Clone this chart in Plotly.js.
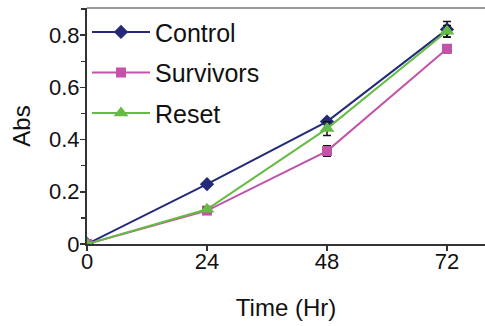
<!DOCTYPE html>
<html><head><meta charset="utf-8">
<script src="https://cdn.plot.ly/plotly-3.0.1.min.js"></script>
<style>html,body{margin:0;padding:0;background:#fff}#chart{width:485px;height:326px}</style>
</head><body><div id="chart"></div>
<script>
const timeHr = [0, 24, 48, 72];
const controlAbs = [0, 0.229, 0.469, 0.822];
const controlErr = [0, 0.008, 0.008, 0.03];
const survivorsAbs = [0, 0.128, 0.356, 0.748];
const survivorsErr = [0, 0.008, 0.02, 0.015];
const resetAbs = [0, 0.133, 0.442, 0.815];
const resetErr = [0, 0.008, 0.026, 0.022];
const xTicks = [0, 24, 48, 72];
const yTicks = [0, 0.2, 0.4, 0.6, 0.8];
const yTickText = ['0', '0.2', '0.4', '0.6', '0.8'];

const font = 'Liberation Sans, Arial, sans-serif';
function tr(name, y, err, color, symbol, size, grp) {
  return {
    type: 'scatter', mode: 'lines+markers', name: name, x: timeHr, y: y,
    legendgroup: grp,
    line: {color: color, width: 2},
    marker: {symbol: symbol, size: size, color: color},
    error_y: {type: 'data', array: err, visible: true, color: '#111', thickness: 1.5, width: 4}
  };
}
const data = [
  tr('Control', controlAbs, controlErr, '#232a78', 'diamond', 11, 'a'),
  tr('Survivors', survivorsAbs, survivorsErr, '#c253a8', 'square', 10, 'b'),
  tr('Reset', resetAbs, resetErr, '#66bb44', 'triangle-up', 13, 'c')
];
const layout = {
  width: 485, height: 326,
  margin: {l: 87, r: 0, t: 8, b: 82},
  paper_bgcolor: '#fff', plot_bgcolor: '#fff',
  font: {family: font, color: '#111'},
  showlegend: true,
  legend: {x: 0.0, y: 0.995, xanchor: 'left', yanchor: 'top', bgcolor: 'rgba(0,0,0,0)',
    font: {size: 25, family: font, color: '#111'}, traceorder: 'grouped', tracegroupgap: 5, itemwidth: 58},
  xaxis: {range: [0, 79.6], tickvals: xTicks, ticktext: xTicks.map(String), ticks: 'outside', ticklen: 5,
    tickwidth: 1.5, tickcolor: '#333', showline: true, linecolor: '#333', linewidth: 2, showgrid: false,
    zeroline: false, tickfont: {size: 22, family: font}, ticklabelstandoff: -8,
    title: {text: 'Time (Hr)', font: {size: 24, family: font}, standoff: 26}},
  yaxis: {range: [0, 0.904], tickvals: yTicks, ticktext: yTickText, ticks: 'outside', ticklen: 5,
    tickwidth: 1.5, tickcolor: '#333', showline: true, linecolor: '#333', linewidth: 2, showgrid: false,
    zeroline: false, tickfont: {size: 22, family: font}, ticklabelstandoff: -4,
    minor: {dtick: 0.1, tick0: 0, ticks: 'outside', ticklen: 4, tickcolor: '#333', tickwidth: 1.5, showgrid: false},
    title: {text: 'Abs', font: {size: 24, family: font}, standoff: 12}},
  shapes: [{type: 'line', xref: 'paper', yref: 'paper', x0: 0, x1: 1, y0: 1, y1: 1,
    line: {color: '#999', width: 2}}]
};
Plotly.newPlot('chart', data, layout, {displayModeBar: false, staticPlot: true});
</script></body></html>
